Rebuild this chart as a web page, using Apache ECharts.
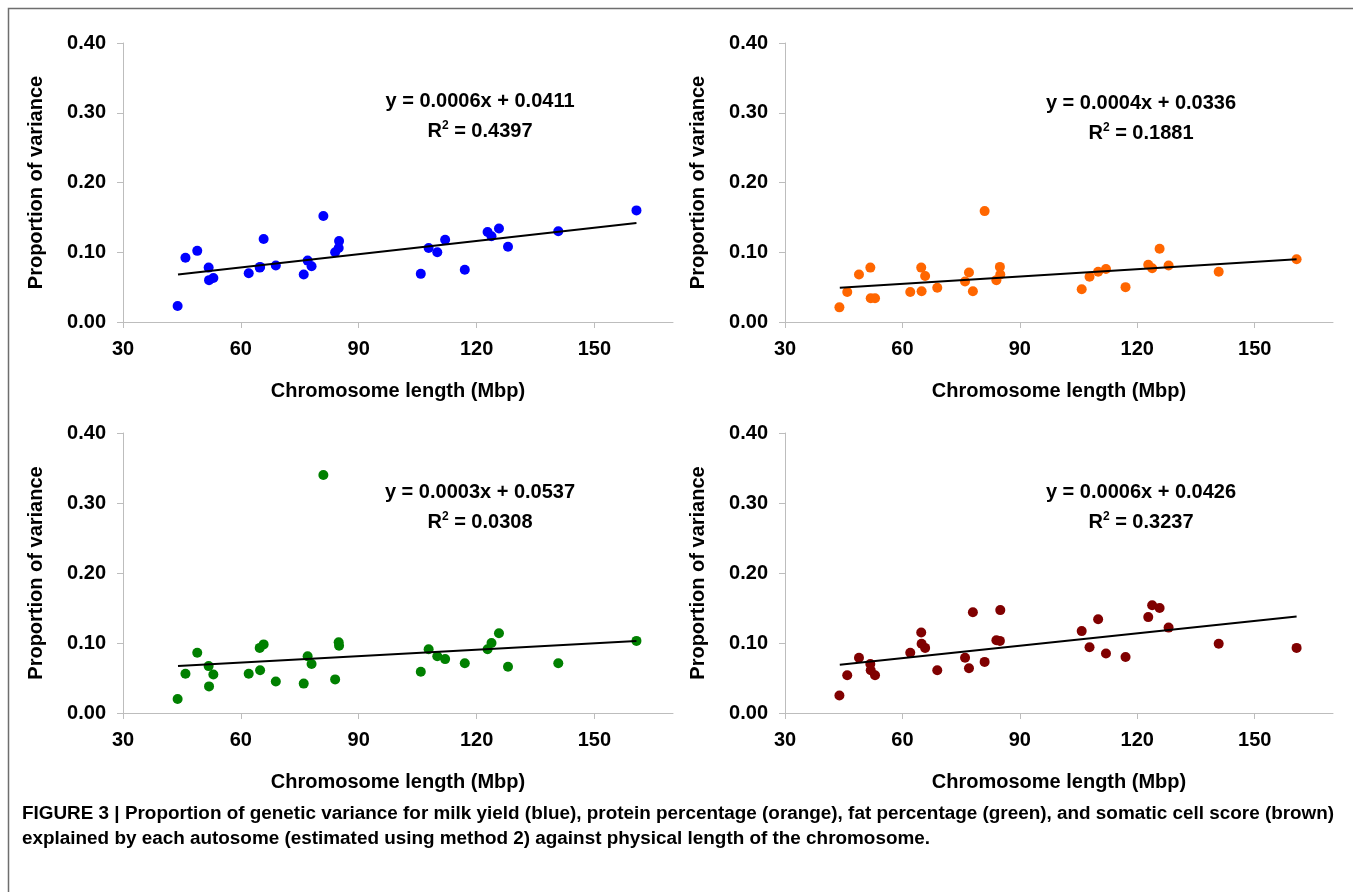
<!DOCTYPE html>
<html>
<head>
<meta charset="utf-8">
<script src="https://cdn.jsdelivr.net/npm/echarts@6/dist/echarts.min.js"></script>
<style>
html,body{margin:0;padding:0;background:#fff;}
#chart{width:1353px;height:892px;}
</style>
</head>
<body>
<div id="chart"></div>
<script>
// Chromosome lengths (Mbp), shared by all panels
const chromLength = [43.9, 45.9, 48.9, 51.8, 51.9, 53.0, 62.0, 64.8, 64.9, 65.8, 68.9, 76.0, 77.0, 78.0, 81.0, 84.0, 84.9, 85.0, 105.8, 107.8, 110.0, 112.0, 117.0, 122.8, 123.8, 125.7, 128.0, 140.8, 160.7];
// Proportion of variance per trait
const milkYield = [0.023, 0.092, 0.102, 0.078, 0.060, 0.063, 0.070, 0.078, 0.079, 0.119, 0.081, 0.068, 0.088, 0.080, 0.152, 0.100, 0.106, 0.116, 0.069, 0.106, 0.100, 0.118, 0.075, 0.129, 0.123, 0.134, 0.108, 0.130, 0.160];
const proteinPct = [0.021, 0.043, 0.068, 0.078, 0.034, 0.034, 0.043, 0.078, 0.044, 0.066, 0.049, 0.058, 0.071, 0.044, 0.159, 0.060, 0.079, 0.068, 0.047, 0.065, 0.072, 0.076, 0.050, 0.082, 0.077, 0.105, 0.081, 0.072, 0.090];
const fatPct = [0.020, 0.056, 0.086, 0.067, 0.038, 0.055, 0.056, 0.093, 0.061, 0.098, 0.045, 0.042, 0.081, 0.070, 0.340, 0.048, 0.101, 0.096, 0.059, 0.091, 0.081, 0.077, 0.071, 0.091, 0.100, 0.114, 0.066, 0.071, 0.103];
const somaticCell = [0.025, 0.054, 0.079, 0.070, 0.061, 0.054, 0.086, 0.115, 0.099, 0.093, 0.061, 0.079, 0.064, 0.144, 0.073, 0.104, 0.103, 0.147, 0.117, 0.094, 0.134, 0.085, 0.080, 0.137, 0.154, 0.150, 0.122, 0.099, 0.093];
// Trend line end points (x) and fitted values
const trendX = [44.0, 160.7];
const trendMilk = [0.068, 0.142];
const trendProtein = [0.049, 0.090];
const trendFat = [0.067, 0.103];
const trendSomatic = [0.069, 0.138];
// Equation labels
const equations = ['y = 0.0006x + 0.0411', 'y = 0.0004x + 0.0336', 'y = 0.0003x + 0.0537', 'y = 0.0006x + 0.0426'];
const rSquared = ['0.4397', '0.1881', '0.0308', '0.3237'];
// Tick values
const xTicks = [30, 60, 90, 120, 150];
const yTicks = [0, 0.1, 0.2, 0.3, 0.4];

const xTitle = 'Chromosome length (Mbp)';
const yTitle = 'Proportion of variance';
const caption1 = 'FIGURE 3 | Proportion of genetic variance for milk yield (blue), protein percentage (orange), fat percentage (green), and somatic cell score (brown)';
const caption2 = 'explained by each autosome (estimated using method 2) against physical length of the chromosome.';

const FONT = '"Liberation Sans", Arial, sans-serif';
const panels = [
  {vals: milkYield, trend: trendMilk, color: '#0000ff', grid: {left: 123, top: 43, width: 550, height: 279}, eq: [480, 101]},
  {vals: proteinPct, trend: trendProtein, color: '#ff6600', grid: {left: 785, top: 43, width: 548, height: 279}, eq: [1141, 103]},
  {vals: fatPct, trend: trendFat, color: '#008000', grid: {left: 123, top: 433, width: 550, height: 280}, eq: [480, 492]},
  {vals: somaticCell, trend: trendSomatic, color: '#800000', grid: {left: 785, top: 433, width: 548, height: 280}, eq: [1141, 492]}
];

const axisColor = '#bdbdbd';
const grids = [], xAxes = [], yAxes = [], series = [], graphics = [];
panels.forEach((p, i) => {
  grids.push(Object.assign({containLabel: false}, p.grid));
  xAxes.push({
    type: 'value', gridIndex: i, min: 30, max: 170, interval: 30,
    name: xTitle, nameLocation: 'middle', nameGap: 59,
    nameTextStyle: {fontFamily: FONT, fontWeight: 'bold', fontSize: 20, color: '#000'},
    axisLine: {show: true, onZero: false, lineStyle: {color: axisColor, width: 1}},
    axisTick: {show: true, length: 6, inside: false, customValues: xTicks, lineStyle: {color: axisColor}},
    axisLabel: {customValues: xTicks, margin: 17, fontFamily: FONT, fontWeight: 'bold', fontSize: 20, color: '#000'},
    splitLine: {show: false}
  });
  yAxes.push({
    type: 'value', gridIndex: i, min: 0, max: 0.4, interval: 0.1,
    name: yTitle, nameLocation: 'middle', nameGap: 77, nameRotate: 90,
    nameTextStyle: {fontFamily: FONT, fontWeight: 'bold', fontSize: 20, color: '#000'},
    axisLine: {show: true, lineStyle: {color: axisColor, width: 1}},
    axisTick: {show: true, length: 6, customValues: yTicks, lineStyle: {color: axisColor}},
    axisLabel: {customValues: yTicks, margin: 17, fontFamily: FONT, fontWeight: 'bold', fontSize: 20, color: '#000',
      formatter: v => v.toFixed(2)},
    splitLine: {show: false}
  });
  series.push({
    type: 'scatter', xAxisIndex: i, yAxisIndex: i, symbolSize: 10,
    itemStyle: {color: p.color, opacity: 1},
    data: chromLength.map((x, k) => [x, p.vals[k]]),
    z: 2
  });
  series.push({
    type: 'line', xAxisIndex: i, yAxisIndex: i, symbol: 'none',
    lineStyle: {color: '#000', width: 2},
    data: trendX.map((x, k) => [x, p.trend[k]]),
    z: 3
  });
  graphics.push({
    type: 'text', x: p.eq[0], y: p.eq[1],
    style: {text: equations[i], font: 'bold 20px ' + FONT, fill: '#000', align: 'center', verticalAlign: 'middle'}
  });
  graphics.push({
    type: 'text', x: p.eq[0], y: p.eq[1] + 30,
    style: {
      text: 'R{sup|2} = ' + rSquared[i],
      font: 'bold 20px ' + FONT, fill: '#000', align: 'center', verticalAlign: 'middle',
      rich: {sup: {fontSize: 12, fontWeight: 'bold', fontFamily: FONT, verticalAlign: 'top', padding: [0, 0, 10, 0]}}
    }
  });
});

// outer frame
graphics.push({
  type: 'rect', shape: {x: 8.5, y: 8.5, width: 1400, height: 1000},
  style: {fill: 'none', stroke: '#6e6e6e', lineWidth: 1.5}, z: -1
});
graphics.push({
  type: 'text', x: 22, y: 814,
  style: {text: caption1, font: 'bold 18.9px ' + FONT, fill: '#000', align: 'left', verticalAlign: 'middle'}
});
graphics.push({
  type: 'text', x: 22, y: 839,
  style: {text: caption2, font: 'bold 18.9px ' + FONT, fill: '#000', align: 'left', verticalAlign: 'middle'}
});

const chart = echarts.init(document.getElementById('chart'), null, {renderer: 'canvas'});
chart.setOption({
  animation: false,
  backgroundColor: '#fff',
  grid: grids, xAxis: xAxes, yAxis: yAxes, series: series,
  graphic: graphics
});
</script>
</body>
</html>
